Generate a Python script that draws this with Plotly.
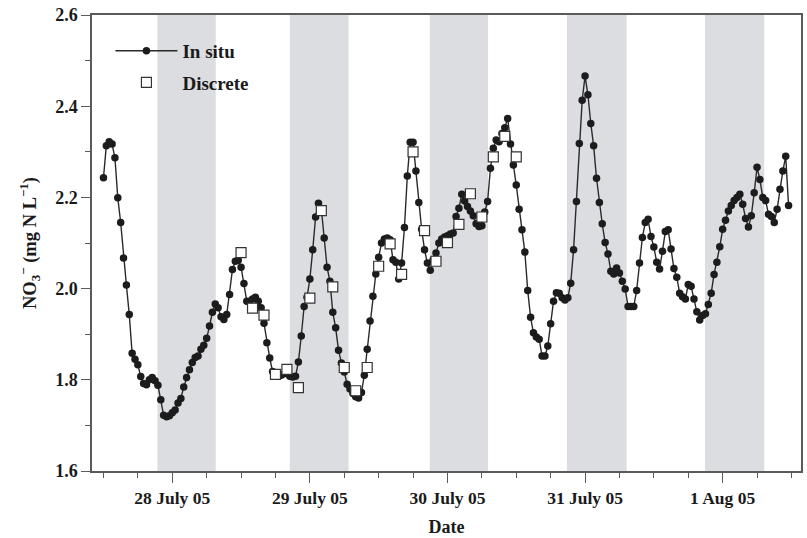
import pandas as pd
import plotly.graph_objects as go

# ---------------- data ----------------
insitu_start = "2005-07-27 12:00"
insitu_step_min = 30
insitu_no3 = [
    2.243, 2.313, 2.322, 2.317, 2.287, 2.199, 2.145, 2.067, 2.008, 1.943,
    1.858, 1.845, 1.833, 1.807, 1.792, 1.789, 1.800, 1.805, 1.798, 1.788,
    1.756, 1.722, 1.719, 1.721, 1.728, 1.734, 1.749, 1.759, 1.784, 1.805,
    1.822, 1.838, 1.849, 1.852, 1.867, 1.876, 1.891, 1.918, 1.948, 1.966,
    1.958, 1.938, 1.932, 1.943, 1.987, 2.042, 2.060, 2.062, 2.047, 2.011,
    1.972, 1.972, 1.977, 1.981, 1.972, 1.958, 1.924, 1.881, 1.848, 1.818,
    1.810, 1.808, 1.810, 1.813, 1.815, 1.808, 1.806, 1.808, 1.839, 1.896,
    1.961, 1.981, 2.021, 2.085, 2.157, 2.187, 2.175, 2.111, 2.047, 2.016,
    1.948, 1.914, 1.865, 1.837, 1.817, 1.790, 1.780, 1.770, 1.763, 1.760,
    1.772, 1.810, 1.867, 1.929, 1.983, 2.032, 2.069, 2.100, 2.109, 2.111,
    2.107, 2.063, 2.058, 2.021, 2.056, 2.134, 2.247, 2.321, 2.321, 2.258,
    2.189, 2.130, 2.085, 2.056, 2.040, 2.063, 2.078, 2.100, 2.109, 2.113,
    2.116, 2.120, 2.122, 2.158, 2.176, 2.207, 2.192, 2.180, 2.170, 2.160,
    2.142, 2.136, 2.138, 2.168, 2.191, 2.264, 2.308, 2.326, 2.322, 2.340,
    2.353, 2.373, 2.317, 2.271, 2.227, 2.174, 2.129, 2.080, 1.996, 1.937,
    1.903, 1.894, 1.889, 1.852, 1.852, 1.874, 1.923, 1.972, 1.991, 1.990,
    1.980, 1.975, 1.980, 2.012, 2.085, 2.191, 2.318, 2.413, 2.466, 2.425,
    2.362, 2.313, 2.242, 2.189, 2.142, 2.101, 2.076, 2.038, 2.032, 2.045,
    2.034, 2.016, 1.999, 1.961, 1.961, 1.961, 1.996, 2.056, 2.112, 2.145,
    2.152, 2.114, 2.091, 2.058, 2.043, 2.082, 2.125, 2.129, 2.087, 2.044,
    2.025, 1.990, 1.982, 1.977, 2.009, 2.005, 1.977, 1.949, 1.931, 1.941,
    1.945, 1.965, 1.990, 2.031, 2.058, 2.092, 2.130, 2.150, 2.170, 2.182,
    2.193, 2.200, 2.207, 2.185, 2.154, 2.135, 2.160, 2.210, 2.266, 2.239,
    2.200, 2.193, 2.163, 2.158, 2.145, 2.174, 2.218, 2.258, 2.290, 2.182,
]

discrete_start = "2005-07-28 12:00"
discrete_step_min = 120
discrete_no3 = [
    2.079, 1.957, 1.942, 1.812, 1.823, 1.783, 1.979, 2.171, 2.004, 1.827,
    1.776, 1.827, 2.049, 2.098, 2.031, 2.300, 2.127, 2.060, 2.101, 2.141,
    2.208, 2.157, 2.289, 2.334, 2.289,
]

night_start = ["2005-07-27 21:25", "2005-07-28 20:30", "2005-07-29 20:55",
               "2005-07-30 20:50", "2005-07-31 20:55"]
night_end = ["2005-07-28 07:35", "2005-07-29 06:45", "2005-07-30 07:05",
             "2005-07-31 07:15", "2005-08-01 07:15"]

tick_dates = ["2005-07-28", "2005-07-29", "2005-07-30", "2005-07-31", "2005-08-01"]
tick_labels = ["28 July 05", "29 July 05", "30 July 05", "31 July 05", "1 Aug 05"]

x_range = ["2005-07-27 10:00", "2005-08-01 13:40"]
y_range = [1.6, 2.6]

# ---------------- figure ----------------
insitu_t = pd.date_range(insitu_start, periods=len(insitu_no3), freq=f"{insitu_step_min}min")
discrete_t = pd.date_range(discrete_start, periods=len(discrete_no3), freq=f"{discrete_step_min}min")

FONT = "Liberation Serif"
AXC = "#5a5a5a"
TXT = "#1a1a1a"

fig = go.Figure()

for s, e in zip(night_start, night_end):
    fig.add_shape(type="rect", xref="x", yref="paper", x0=s, x1=e, y0=0, y1=1,
                  fillcolor="#dcdde0", line=dict(width=0), layer="below")

fig.add_trace(go.Scatter(
    x=insitu_t, y=insitu_no3, mode="lines+markers", name="In situ",
    legendgroup="a",
    line=dict(color="#2a2a2a", width=1.4),
    marker=dict(symbol="circle", size=7.5, color="#1c1c1c"),
))
fig.add_trace(go.Scatter(
    x=discrete_t, y=discrete_no3, mode="markers", name="Discrete",
    legendgroup="b",
    marker=dict(symbol="square", size=10, color="white",
                line=dict(color="#333333", width=1.2)),
))

fig.update_layout(
    width=807, height=538,
    margin=dict(l=92, r=4, t=15, b=66),
    paper_bgcolor="white", plot_bgcolor="white",
    font=dict(family=FONT, size=17, color=TXT, weight="bold"),
    showlegend=True,
    legend=dict(x=0.026, y=0.963, xanchor="left", yanchor="top",
                bgcolor="rgba(0,0,0,0)", tracegroupgap=4,
                font=dict(family=FONT, size=19, color=TXT, weight="bold"),
                itemwidth=62),
)

fig.update_xaxes(
    type="date", range=x_range,
    tickmode="array", tickvals=tick_dates, ticktext=tick_labels,
    ticks="outside", ticklen=10, tickwidth=1.2, tickcolor=AXC,
    tickfont=dict(family=FONT, size=17.5, color=TXT, weight="bold"),
    minor=dict(dtick=6 * 3600 * 1000, tick0="2005-07-28", ticks="outside",
               ticklen=5, tickwidth=1.2, tickcolor=AXC, showgrid=False),
    showline=True, linecolor=AXC, linewidth=1.5, mirror=True,
    showgrid=False, zeroline=False,
    title=dict(text="Date", standoff=14,
               font=dict(family=FONT, size=18, color=TXT, weight="bold")),
)
fig.update_yaxes(
    range=y_range, dtick=0.2, tick0=1.6, tickformat=".1f",
    ticks="outside", ticklen=9, tickwidth=1.2, tickcolor=AXC,
    tickfont=dict(family=FONT, size=18, color=TXT, weight="bold"),
    minor=dict(dtick=0.1, ticks="outside", ticklen=5, tickwidth=1.2,
               tickcolor=AXC, showgrid=False),
    showline=True, linecolor=AXC, linewidth=1.5, mirror=True,
    showgrid=False, zeroline=False,
    title=dict(text="NO<sub>3</sub><sup>\u2212</sup> (mg N L<sup>\u22121</sup>)", standoff=14,
               font=dict(family=FONT, size=18.5, color=TXT, weight="bold")),
)

fig.write_html("out.html")
